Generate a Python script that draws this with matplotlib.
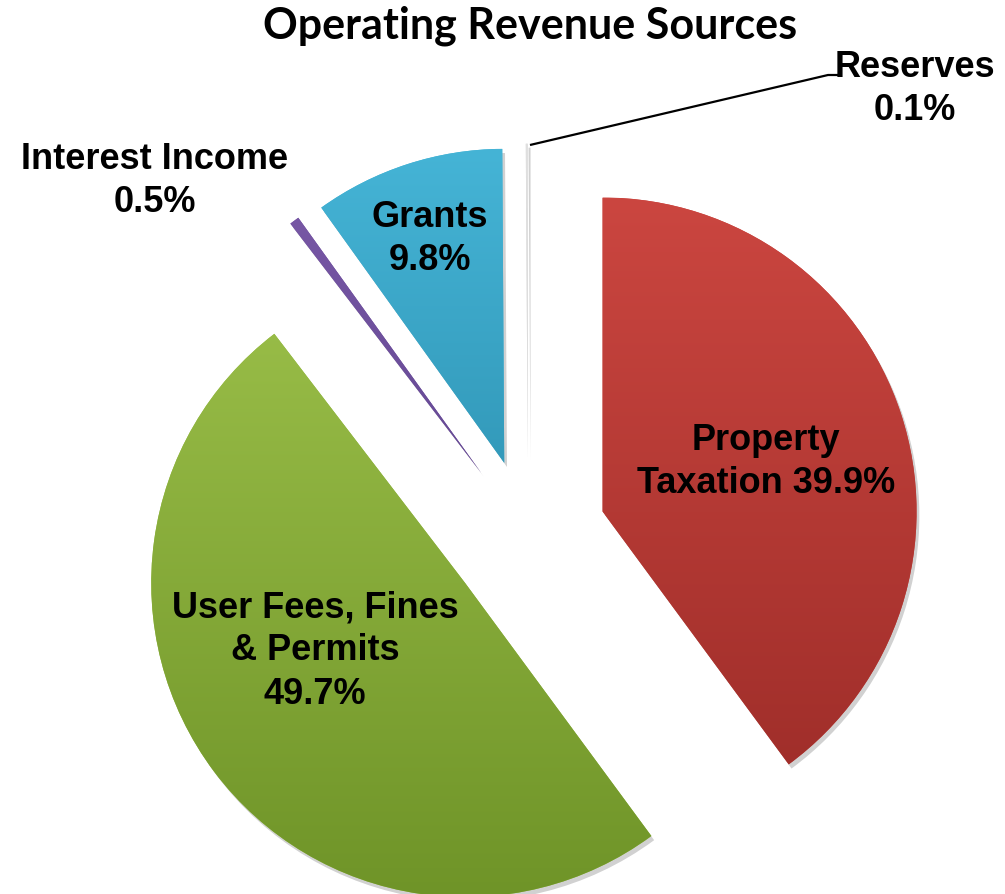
"""Operating revenue sources: exploded pie with shaded slices."""

import numpy as np
import matplotlib
matplotlib.use("Agg")
import matplotlib.pyplot as plt
from matplotlib import font_manager, patheffects
from matplotlib.colors import LinearSegmentedColormap

W, H = 1005, 895

categories = ["Property Taxation", "User Fees, Fines & Permits", "Interest Income",
              "Grants", "Reserves"]
shares = [39.9, 49.7, 0.5, 9.8, 0.1]
explode = [0.25, 0.25, 0.25, 0.245, 0.25]
# light -> dark shading per slice
shades = [("#cb4640", "#9c2c28"), ("#9cc04a", "#6f9428"), ("#7b5aa8", "#4f3880"),
          ("#45b4d6", "#21809f"), ("#e0e0e0", "#cccccc")]

title = "Operating Revenue Sources"


def pick(*names):
    have = {f.name for f in font_manager.fontManager.ttflist}
    for n in names:
        if n in have:
            return n
    return "DejaVu Sans"


body_font = pick("Liberation Sans", "Arial", "DejaVu Sans")
narrow_font = pick("Liberation Sans Narrow", "Liberation Sans")
title_font = pick("Lato", "Open Sans", "Liberation Sans")

# pie centre and radius in pixels, data unit = one radius
cx, cy, R = 528, 537, 314

fig = plt.figure(figsize=(W / 100, H / 100), dpi=100)
ax = fig.add_axes([0, 0, 1, 1])

wedges, _ = ax.pie(shares, explode=explode, startangle=90, counterclock=False,
                   radius=1.0, colors=[s[0] for s in shades],
                   wedgeprops=dict(linewidth=0))

for w, (c1, c2) in zip(wedges, shades):
    w.set_path_effects([patheffects.SimplePatchShadow(offset=(2, -3), alpha=0.18,
                                                      shadow_rgbFace="black"),
                        patheffects.Normal()])
    cmap = LinearSegmentedColormap.from_list("s", [c1, c2])
    x0, y0 = w.center
    grad = np.linspace(0, 1, 256).reshape(-1, 1)
    im = ax.imshow(grad, cmap=cmap, aspect="auto", origin="upper",
                   extent=(x0 - 1, x0 + 1, y0 - 1, y0 + 1), zorder=w.get_zorder() + 0.1)
    im.set_clip_path(w)

# leader line for the Reserves slice
lx = [530, 828, 838]
ly = [146, 76, 76]
ax.plot([(x - cx) / R for x in lx], [(cy - y) / R for y in ly],
        color="black", lw=1.6, solid_capstyle="butt")

ax.set_xlim(-cx / R, (W - cx) / R)
ax.set_ylim(-(H - cy) / R, cy / R)
ax.set_aspect("equal")
ax.axis("off")


def px(x, y):
    return x / W, 1 - y / H


lab = dict(ha="center", va="center", fontweight="bold", color="black",
           linespacing=1.3, family=body_font)

fig.text(*px(530, 26), title, ha="center", va="center", fontsize=31,
         fontweight="bold", family=title_font)
fig.text(*px(430, 239), "Grants\n9.8%", fontsize=26, **lab)
fig.text(*px(766, 462), "Property\nTaxation 39.9%", fontsize=26, **lab)
fig.text(*px(315, 651), "User Fees, Fines\n& Permits\n49.7%", fontsize=26, **lab)
fig.text(*px(155, 181), "Interest Income\n0.5%", fontsize=26, **lab)
fig.text(*px(915, 89), "Reserves\n0.1%", fontsize=26,
         **{**lab, "family": narrow_font})

fig.savefig("out.png", dpi=100)
